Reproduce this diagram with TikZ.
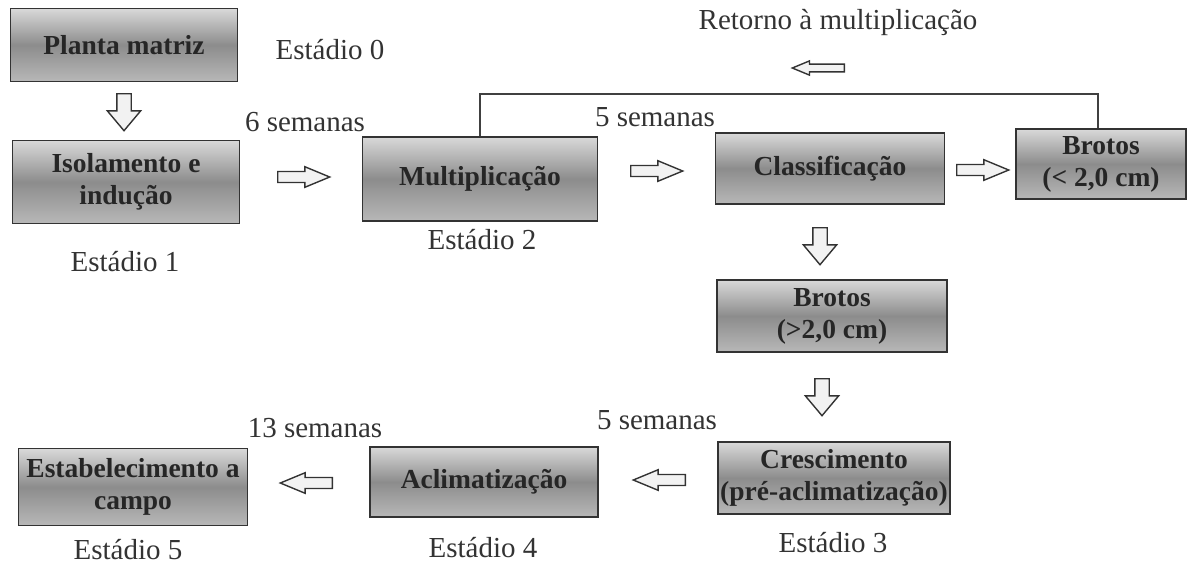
\documentclass[tikz,border=0pt]{standalone}
\usepackage{fontspec}
\setmainfont{Liberation Serif}
\usetikzlibrary{shapes.arrows}

\begin{document}
\begin{tikzpicture}[x=0.5pt,y=-0.5pt,
  caixa/.style={draw=black!80,line width=0.7pt,top color=black!15,bottom color=black!28,middle color=black!45,
    align=center,font=\fontsize{13.75}{16}\selectfont\bfseries,text=black!85,inner sep=0pt},
  rotulo/.style={text=black!80,font=\fontsize{14.5}{17}\selectfont},
  seta/.style={single arrow,draw=black!80,fill=black!5,line width=0.7pt,inner sep=2.4pt,anchor=tail,
    minimum height=26pt,single arrow head extend=2.4pt,single arrow tip angle=45},
  setabaixo/.style={seta,shape border rotate=270,inner sep=3.25pt,minimum height=18.5pt,
    single arrow head extend=4.75pt,single arrow tip angle=80}]
\useasboundingbox (0,0) rectangle (1194,564);

\node[caixa,minimum width=113.5pt,minimum height=36.5pt] (planta) at (124,45) {Planta matriz};
\node[caixa,minimum width=113.5pt,minimum height=41.5pt] (iso) at (126,182) {Isolamento e\\indução};
\node[caixa,minimum width=117.5pt,minimum height=42pt] (mult) at (480,179) {Multiplicação};
\node[caixa,minimum width=114.5pt,minimum height=35.5pt] (clas) at (830,168.5) {Classificação};
\node[caixa,minimum width=85pt,minimum height=35pt] (brl) at (1101,164) {Brotos\\(< 2,0 cm)};
\node[caixa,minimum width=115pt,minimum height=36pt] (brg) at (832,316) {Brotos\\(>2,0 cm)};
\node[caixa,minimum width=116pt,minimum height=36pt] (cresc) at (834,478) {Crescimento\\(pré-aclimatização)};
\node[caixa,minimum width=114pt,minimum height=35pt] (acli) at (484,482) {Aclimatização};
\node[caixa,minimum width=114.5pt,minimum height=38.5pt] (estab) at (133,487) {Estabelecimento a\\campo};

\node[rotulo] (e0) at (330,50) {Estádio 0};
\node[rotulo] (e1) at (125,262) {Estádio 1};
\node[rotulo] (e2) at (482,240) {Estádio 2};
\node[rotulo] (e3) at (833,543) {Estádio 3};
\node[rotulo] (e4) at (483,548) {Estádio 4};
\node[rotulo] (e5) at (128,550) {Estádio 5};
\node[rotulo] (s6) at (305,122) {6 semanas};
\node[rotulo] (s5a) at (655,117) {5 semanas};
\node[rotulo] (s5b) at (657,420) {5 semanas};
\node[rotulo] (s13) at (315,428) {13 semanas};
\node[rotulo] (ret) at (838,22) {Retorno à multiplicação};

% setas de bloco
\node[setabaixo] (a1) at (124,93) {};
\node[seta] (a2) at (277,177) {};
\node[seta] (a3) at (630,171) {};
\node[seta] (a4) at (956,170) {};
\node[setabaixo] (a5) at (820,227) {};
\node[setabaixo] (a6) at (822,378) {};
\node[seta,shape border rotate=180] (a7) at (686,480) {};
\node[seta,shape border rotate=180] (a8) at (333,483) {};
\node[seta,shape border rotate=180,inner sep=1.6pt,single arrow head extend=1.6pt] (a9) at (845,68) {};

% retorno
\coordinate (volta) at (1098,94);
\draw[black!75,line width=0.7pt] (mult.north) |- (volta) -- (volta |- brl.north);
\end{tikzpicture}
\end{document}
